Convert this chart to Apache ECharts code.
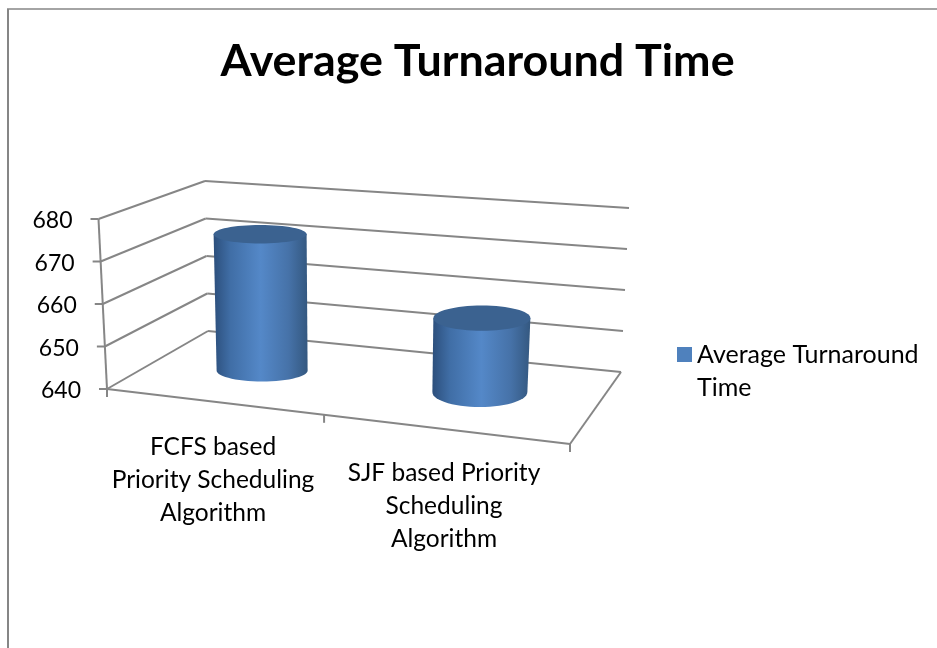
<!DOCTYPE html>
<html>
<head>
<meta charset="utf-8">
<style>
  html, body { margin: 0; padding: 0; background: #fff; }
  #chart { width: 937px; height: 648px; }
</style>
<script src="https://cdn.jsdelivr.net/npm/echarts@6/dist/echarts.min.js"></script>
</head>
<body>
<div id="chart"></div>
<script>
const titleText = 'Average Turnaround Time';
const seriesName = 'Average Turnaround Time';
const categories = ['FCFS based\nPriority Scheduling\nAlgorithm', 'SJF based Priority\nScheduling\nAlgorithm'];
const turnaround = [673, 657.5];
const yTicks = [640, 650, 660, 670, 680];

const FONT = 'Lato';
const LINE = '#868686';

// picture corners of the 3D box, floor and top plane
const floorPlane = quad([107, 389], [570, 444], [621, 372], [208, 331]);
const topPlane = quad([98.5, 219], [575, 262], [629, 208], [205, 181]);

// unit square -> quad (homography)
function quad(p0, p1, p2, p3) {
  const dx1 = p1[0] - p2[0], dx2 = p3[0] - p2[0], sx = p0[0] - p1[0] + p2[0] - p3[0];
  const dy1 = p1[1] - p2[1], dy2 = p3[1] - p2[1], sy = p0[1] - p1[1] + p2[1] - p3[1];
  const det = dx1 * dy2 - dx2 * dy1;
  const g = (sx * dy2 - dx2 * sy) / det;
  const h = (dx1 * sy - sx * dy1) / det;
  const a = p1[0] - p0[0] + g * p1[0], b = p3[0] - p0[0] + h * p3[0];
  const d = p1[1] - p0[1] + g * p1[1], e = p3[1] - p0[1] + h * p3[1];
  return (u, v) => {
    const k = g * u + h * v + 1;
    return [(a * u + b * v + p0[0]) / k, (d * u + e * v + p0[1]) / k];
  };
}

// u: along categories, v: depth, w: height, all 0..1
function project(u, v, w) {
  const lo = floorPlane(u, v), hi = topPlane(u, v);
  return [lo[0] + (hi[0] - lo[0]) * w, lo[1] + (hi[1] - lo[1]) * w];
}

// read u and w off the hidden cartesian axes
function toUnit(api, params, cat, val) {
  const c = api.coord([cat, val]);
  return { u: (c[0] - params.coordSys.x) / params.coordSys.width, w: (params.coordSys.y + params.coordSys.height - c[1]) / params.coordSys.height };
}

function lineEl(a, b, width) {
  return {
    type: 'line',
    shape: { x1: a[0], y1: a[1], x2: b[0], y2: b[1] },
    style: { stroke: LINE, lineWidth: width || 2 }
  };
}

function textEl(text, x, y, align, size) {
  return {
    type: 'text',
    style: { text, x, y, align, verticalAlign: 'middle', fill: '#000', fontFamily: FONT, fontSize: size || 24.5, lineHeight: 33 }
  };
}

function renderWall(params, api) {
  const { w } = toUnit(api, params, 0, api.value(1));
  const front = project(0, 0, w);
  const back = project(0, 1, w);
  const right = project(1, 1, w);
  return {
    type: 'group',
    children: [
      lineEl(front, back),
      lineEl(back, right),
      lineEl(front, [front[0] - 8, front[1]]),
      textEl(String(api.value(1)), front[0] - 26, front[1] + 2, 'right', 23)
    ]
  };
}

function renderFloor(params, api) {
  const i = api.value(0);
  const children = [];
  if (i === 0) {
    children.push(lineEl(project(0, 0, 0), project(0, 0, 1)));
    children.push(lineEl(project(0, 0, 0), project(1, 0, 0)));
    children.push(lineEl(project(1, 0, 0), project(1, 1, 0)));
    const p = project(0, 0, 0);
    children.push(lineEl(p, [p[0], p[1] + 8]));
  }
  const { u } = toUnit(api, params, i, yTicks[0]);
  const tick = project(u + 0.25, 0, 0);
  children.push(lineEl(tick, [tick[0], tick[1] + 8]));
  const labelX = [213, 444];
  const labelY = [480.5, 506];
  children.push(textEl(categories[i], labelX[i], labelY[i], 'center'));
  return { type: 'group', children };
}

function renderCylinder(params, api) {
  const { u, w } = toUnit(api, params, api.value(0), api.value(1));
  const base = project(u, 0.5, 0);
  const head = project(u, 0.5, w);
  // sides stay close to vertical, the box lean would overdo it
  base[0] += 1.5;
  base[1] += 1.5 - (u - 0.25) * 4;
  head[0] = base[0] + (u - 0.5) * 8;
  const rx0 = 45.5 + (u - 0.25) * 4, ry0 = 11 + (u - 0.25) * 8;
  const rx1 = rx0 + 1, ry1 = ry0 * 0.84;
  const pts = [[head[0] - rx1, head[1]]];
  for (let a = 180; a >= 0; a -= 6) {
    const r = a * Math.PI / 180;
    pts.push([base[0] + rx0 * Math.cos(r), base[1] + ry0 * Math.sin(r)]);
  }
  pts.push([head[0] + rx1, head[1]]);
  return {
    type: 'group',
    children: [
      {
        type: 'polygon',
        shape: { points: pts },
        style: {
          fill: new echarts.graphic.LinearGradient(0, 0, 1, 0, [
            { offset: 0, color: '#2c4f7c' },
            { offset: 0.18, color: '#406ea6' },
            { offset: 0.5, color: '#5488c8' },
            { offset: 0.8, color: '#4672a8' },
            { offset: 1, color: '#345880' }
          ])
        }
      },
      {
        type: 'ellipse',
        shape: { cx: head[0], cy: head[1], rx: rx1, ry: ry1 },
        style: { fill: '#3b6290' }
      }
    ]
  };
}

const chart = echarts.init(document.getElementById('chart'));
chart.setOption({
  animation: false,
  backgroundColor: '#fff',
  title: {
    text: titleText,
    left: 472.5,
    top: 34,
    textAlign: 'center',
    textStyle: { color: '#000', fontFamily: FONT, fontWeight: 'bold', fontSize: 44.8 }
  },
  grid: { left: 107, top: 219, width: 463, height: 170 },
  xAxis: { type: 'category', data: categories, show: false },
  yAxis: { type: 'value', min: 640, max: 680, interval: 10, show: false },
  legend: {
    left: 677,
    top: 305,
    padding: 0,
    data: [{ name: seriesName, itemStyle: { color: '#4f81bd' } }],
    icon: 'rect',
    itemWidth: 15,
    itemHeight: 15,
    itemGap: 0,
    // blank first line keeps the swatch level with the first text line
    formatter: () => '\nAverage Turnaround\nTime',
    textStyle: { color: '#000', fontFamily: FONT, fontSize: 25, lineHeight: 33 },
    selectedMode: false
  },
  graphic: [
    { type: 'line', silent: true, shape: { x1: 8, y1: 9, x2: 8, y2: 648 }, style: { stroke: LINE, lineWidth: 2 } },
    { type: 'line', silent: true, shape: { x1: 7, y1: 9, x2: 937, y2: 9 }, style: { stroke: LINE, lineWidth: 1.5 } }
  ],
  series: [
    { type: 'custom', name: 'wall', silent: true, z: 1, renderItem: renderWall, data: yTicks.map(t => [0, t]) },
    { type: 'custom', name: 'floor', silent: true, z: 2, renderItem: renderFloor, data: categories.map((c, i) => [i, yTicks[0]]) },
    { type: 'custom', name: seriesName, silent: true, z: 3, renderItem: renderCylinder, data: turnaround.map((v, i) => [i, v]) }
  ]
});
</script>
</body>
</html>
